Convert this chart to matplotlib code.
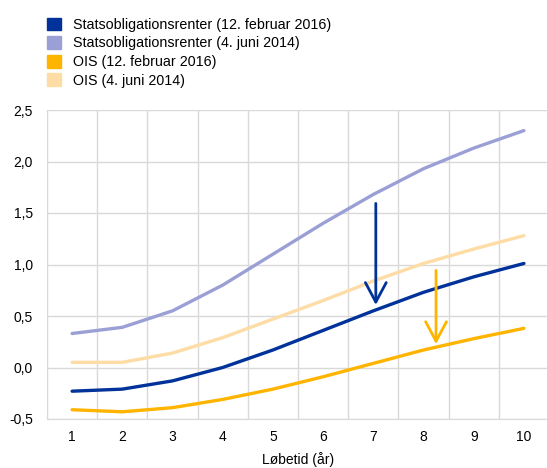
import numpy as np
import matplotlib.pyplot as plt
from matplotlib.patches import Patch

# Løbetid i år
maturity = [1, 2, 3, 4, 5, 6, 7, 8, 9, 10]

stats_2016 = [-0.23, -0.21, -0.13, 0.00, 0.17, 0.36, 0.55, 0.73, 0.88, 1.01]
stats_2014 = [0.33, 0.39, 0.55, 0.80, 1.10, 1.40, 1.68, 1.93, 2.13, 2.30]
ois_2016 = [-0.41, -0.43, -0.39, -0.31, -0.21, -0.09, 0.04, 0.17, 0.28, 0.38]
ois_2014 = [0.05, 0.05, 0.14, 0.29, 0.47, 0.65, 0.84, 1.01, 1.15, 1.28]

labels = ["Statsobligationsrenter (12. februar 2016)",
          "Statsobligationsrenter (4. juni 2014)",
          "OIS (12. februar 2016)",
          "OIS (4. juni 2014)"]
colors = ["#003299", "#9aa0d5", "#ffb400", "#fddca5"]

# pile: (x, y_start, y_slut)
arrow_stats = (7.05, 1.62, 0.58)
arrow_ois = (8.25, 0.97, 0.20)

plt.rcParams['font.family'] = ['Liberation Sans', 'DejaVu Sans']

fig = plt.figure(figsize=(5.47, 4.68), dpi=100)
ax = fig.add_axes([47/547, 49/468, 502/547, 309/468])

series = [stats_2016, stats_2014, ois_2016, ois_2014]
order = [3, 1, 2, 0]  # tegn mørke linjer øverst
for i in order:
    ax.plot(maturity, series[i], color=colors[i], lw=2.4, solid_capstyle='round', zorder=3 + (i in (0, 2)))

for (x, y0, y1), c in [(arrow_stats, colors[0]), (arrow_ois, colors[2])]:
    ax.annotate("", xy=(x, y1), xytext=(x, y0),
                arrowprops=dict(arrowstyle="->,head_length=1.4,head_width=0.75", color=c, lw=2),
                zorder=6)

ax.set_xlim(0.5, 10.5)
ax.set_ylim(-0.5, 2.5)
ax.set_xticks(maturity)
ax.set_xticks(np.arange(0.5, 11, 1), minor=True)
ax.set_yticks(np.arange(-0.5, 2.51, 0.5))
ax.set_yticklabels([f"{v:.1f}".replace(".", ",") for v in np.arange(-0.5, 2.51, 0.5)])
ax.grid(True, which='minor', axis='x', color='#d9d9d9', lw=1)
ax.grid(True, which='major', axis='y', color='#d9d9d9', lw=1)
ax.tick_params(which='both', length=0, labelsize=10, pad=8)
ax.tick_params(axis='y', pad=10)
for s in ['top', 'right']:
    ax.spines[s].set_visible(False)
for s in ['left', 'bottom']:
    ax.spines[s].set_color('#d9d9d9')
ax.set_xlabel("Løbetid (år)", fontsize=10, labelpad=6)

handles = [Patch(color=c) for c in colors]
fig.legend(handles, labels, loc='upper left', bbox_to_anchor=(0.062, 0.99),
           frameon=False, fontsize=10.3, handlelength=1.0, handleheight=1.0,
           handletextpad=0.8, labelspacing=0.3)

fig.savefig("out.png", dpi=100)
